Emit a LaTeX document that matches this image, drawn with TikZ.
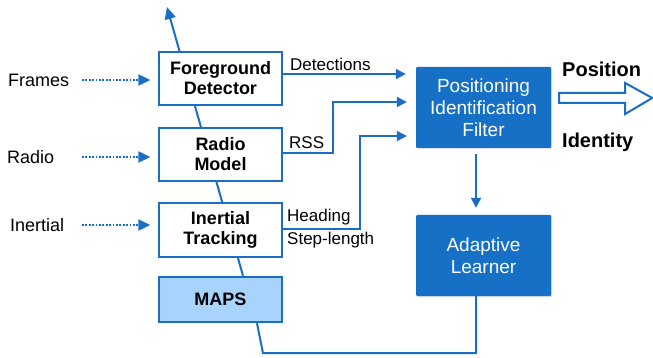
\documentclass[tikz,border=0pt]{standalone}
\usepackage{fontspec}
\setmainfont{Liberation Sans}
\usetikzlibrary{arrows.meta,backgrounds,shadows}

\definecolor{lineblue}{RGB}{26,110,196}
\definecolor{boxblue}{RGB}{21,112,198}
\definecolor{mapsblue}{RGB}{168,212,252}

\tikzset{
  whitebox/.style={draw=lineblue, line width=1.4pt, fill=white, inner sep=0pt,
    minimum width=123pt, align=center, font=\fontsize{18}{20}\selectfont\bfseries},
  bluebox/.style={fill=boxblue, rounded corners=1pt, inner sep=0pt,
    minimum width=135pt, minimum height=81pt, align=center, text=white,
    font=\fontsize{19}{22}\selectfont,
    drop shadow={opacity=0.25, shadow xshift=1pt, shadow yshift=-1pt}},
  mapsbox/.style={draw=lineblue, line width=2.4pt, fill=mapsblue, inner sep=0pt,
    minimum width=123pt, minimum height=45pt, font=\fontsize{18}{20}\selectfont\bfseries},
  inlabel/.style={anchor=west, inner sep=0pt, font=\fontsize{18}{20}\selectfont},
  edgelabel/.style={anchor=west, inner sep=0pt, font=\fontsize{17}{19}\selectfont},
  outlabel/.style={anchor=west, inner sep=0pt, font=\fontsize{20}{22}\selectfont\bfseries},
  conn/.style={draw=lineblue, line width=2pt, -{Triangle[length=10pt,width=10pt]}},
  plainconn/.style={draw=lineblue, line width=2pt},
  dotarrow/.style={draw=lineblue, line width=2.2pt, dash pattern=on 1.8pt off 1.6pt,
    -{Triangle[length=12pt,width=11pt]}, shorten >=8pt},
}

\begin{document}
\begin{tikzpicture}[x=1pt, y=-1pt]
  \useasboundingbox (0,0) rectangle (653,358);

  % processing blocks, left column
  \node[whitebox, minimum height=53pt] (fg) at (220.5,78.5) {Foreground\\Detector};
  \node[whitebox, minimum height=53pt] (rm) at (220.5,154.5) {Radio\\Model};
  \node[whitebox, minimum height=54pt] (it) at (220.5,230) {Inertial\\Tracking};
  \node[mapsbox] (maps) at (220.5,299.5) {MAPS};

  % filter and learner, right column
  \node[bluebox] (pif) at (483.5,107.5) {Positioning\\Identification\\Filter};
  \node[bluebox] (al) at (483.5,255.5) {Adaptive\\Learner};

  % map information flowing up through the sensor blocks
  \coordinate (uptip) at (167,7);
  \begin{scope}[on background layer]
    \draw[conn, -{Triangle[length=12pt,width=11pt]}] ([xshift=22.5pt]maps.north) -- (uptip);
  \end{scope}

  % raw inputs
  \node[inlabel] (frames) at (8,80) {Frames};
  \node[inlabel] (radio) at (7,157) {Radio};
  \node[inlabel] (inertial) at (10,225) {Inertial};
  \coordinate (dotstart) at (82,0);
  \draw[dotarrow] (dotstart |- frames.east) -- (fg.west |- frames.east);
  \draw[dotarrow] (dotstart |- radio.east) -- (rm.west |- radio.east);
  \draw[dotarrow] (dotstart |- inertial.east) -- (it.west |- inertial.east);

  % block outputs into the filter
  \draw[conn, shorten >=10pt] ([yshift=4.5pt]fg.east) -- ([yshift=4.5pt]fg.east -| pif.west);
  \draw[conn, shorten >=9pt] ([yshift=1.5pt]rm.east) -- ++(50,0)
    |- ([yshift=5.5pt]pif.west);
  \draw[conn, shorten >=9pt] ([yshift=1pt]it.east) -- ++(77,0)
    |- ([yshift=-28.5pt]pif.west);

  \node[edgelabel] (lbdet) at (290,64) {Detections};
  \node[edgelabel] (lbrss) at (289,143) {RSS};
  \node[edgelabel] (lbhead) at (287,217) {Heading};
  \node[edgelabel] (lbstep) at (287,240) {Step-length};

  % filter to learner, learner back to maps
  \draw[conn, shorten <=6pt, shorten >=7pt] ([xshift=-7.5pt]pif.south) -- ([xshift=-7.5pt]al.north);
  \draw[plainconn] ([xshift=-7.5pt]al.south) |- ([xshift=42.5pt,yshift=-30pt]maps.south)
    -- ([xshift=36.5pt]maps.south);

  % output
  \node[outlabel] (pos) at (562,69) {Position};
  \node[outlabel] (ident) at (562,142) {Identity};
  \coordinate (outstart) at ([xshift=8pt,yshift=-0.5pt]pif.east);
  \draw[lineblue, line width=2pt, fill=white, line join=miter]
    ([yshift=5pt]outstart) -- ++(66,0) -- ++(0,11) -- ++(27,-16) -- ++(-27,-15)
    -- ++(0,10) -- ++(-66,0) -- cycle;
\end{tikzpicture}
\end{document}
